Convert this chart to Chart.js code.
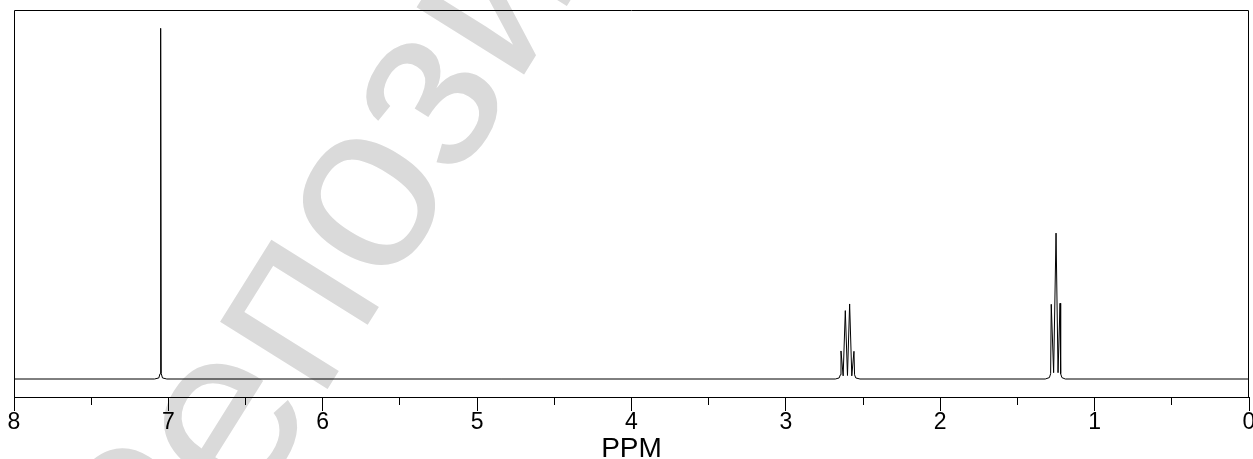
<!DOCTYPE html>
<html>
<head>
<meta charset="utf-8">
<script src="https://cdn.jsdelivr.net/npm/chart.js@4.4.0/dist/chart.umd.min.js"></script>
<style>
  html, body { margin: 0; padding: 0; overflow: hidden; background: #fff; }
  #wrap { width: 1262px; height: 459px; }
</style>
</head>
<body>
<div id="wrap"><canvas id="nmr" width="1262" height="459"></canvas></div>
<script>
// chemical shift (ppm) and intensity (% of the tallest line)
const shifts = [
  8.0,
  7.09, 7.062, 7.054, 7.05, 7.046, 7.038, 7.01,
  2.68, 2.655, 2.647, 2.643, 2.629, 2.615, 2.601, 2.587, 2.573, 2.559, 2.555, 2.547, 2.52,
  1.32, 1.293, 1.285, 1.281, 1.2655, 1.25, 1.237, 1.224, 1.22, 1.212, 1.19,
  0.0
];
const intensity = [
  0,
  0, 0.3, 1.5, 100, 1.5, 0.3, 0,
  0, 0.3, 1.2, 8.0, 0.9, 19.5, 1.0, 21.4, 0.9, 7.9, 1.2, 0.3, 0,
  0, 0.4, 1.5, 21.3, 1.8, 41.6, 1.8, 21.6, 1.5, 0.4, 0,
  0
];
const majorTicks = [8, 7, 6, 5, 4, 3, 2, 1, 0];
const minorTicks = [7.5, 6.5, 5.5, 4.5, 3.5, 2.5, 1.5, 0.5];
const axisTitle = 'PPM';
const watermark = 'Репозиторий';

const yMin = -5.13, yMax = 105.22;
Chart.defaults.font.family = '"Liberation Sans", Arial, sans-serif';
Chart.defaults.color = '#000';

// light grey diagonal stamp behind the plot
const stampPlugin = {
  id: 'stamp',
  beforeDraw(chart) {
    const ctx = chart.ctx;
    const size = 240;
    ctx.save();
    ctx.font = size + 'px "Liberation Sans", Arial, sans-serif';
    ctx.fillStyle = '#dadada';
    const head = ctx.measureText('Реп').width;
    const o = ctx.measureText('о').width;
    ctx.translate(370, 203);
    ctx.rotate(-58 * Math.PI / 180);
    ctx.textBaseline = 'alphabetic';
    ctx.fillText(watermark, -(head + o / 2), size * 0.26);
    ctx.restore();
  }
};

// top, left and right edges of the plot box
const framePlugin = {
  id: 'frame',
  afterDraw(chart) {
    const { left, right, top, bottom } = chart.chartArea;
    const ctx = chart.ctx;
    const l = Math.round(left) + 0.5, r = Math.round(right) - 0.5, t = Math.round(top) + 0.5;
    ctx.save();
    ctx.strokeStyle = '#000';
    ctx.lineWidth = 1;
    ctx.beginPath();
    ctx.moveTo(l, bottom); ctx.lineTo(l, t); ctx.lineTo(r, t); ctx.lineTo(r, bottom);
    ctx.stroke();
    ctx.restore();
  }
};

new Chart(document.getElementById('nmr'), {
  type: 'line',
  data: {
    datasets: [{
      data: shifts.map((s, i) => ({ x: s, y: intensity[i] })),
      borderColor: '#000',
      borderWidth: 1,
      pointRadius: 0,
      tension: 0,
      fill: false
    }]
  },
  options: {
    responsive: false,
    animation: false,
    events: [],
    layout: { padding: { left: 14, right: 13, top: 10, bottom: 0 } },
    plugins: { legend: { display: false }, tooltip: { enabled: false } },
    scales: {
      x: {
        type: 'linear', min: 0, max: 8, reverse: true,
        afterBuildTicks: s => { s.ticks = majorTicks.map(v => ({ value: v })); },
        border: { display: true, color: '#000', width: 1 },
        grid: { drawOnChartArea: false, drawTicks: true, tickLength: 14, tickColor: '#000', color: '#000' },
        ticks: { autoSkip: false, maxRotation: 0, padding: 0, font: { size: 23, lineHeight: 1.0 }, color: '#000' },
        title: { display: true, text: axisTitle, font: { size: 28, lineHeight: 1.0 }, padding: { top: 1, bottom: -4 }, color: '#000' }
      },
      xm: {
        type: 'linear', min: 0, max: 8, reverse: true, axis: 'x',
        position: { y: yMin },
        afterBuildTicks: s => { s.ticks = minorTicks.map(v => ({ value: v })); },
        border: { display: false },
        grid: { drawOnChartArea: false, drawTicks: true, tickLength: 8, tickColor: '#000' },
        ticks: { display: false }
      },
      y: { type: 'linear', min: yMin, max: yMax, display: false }
    }
  },
  plugins: [stampPlugin, framePlugin]
});
</script>
</body>
</html>
